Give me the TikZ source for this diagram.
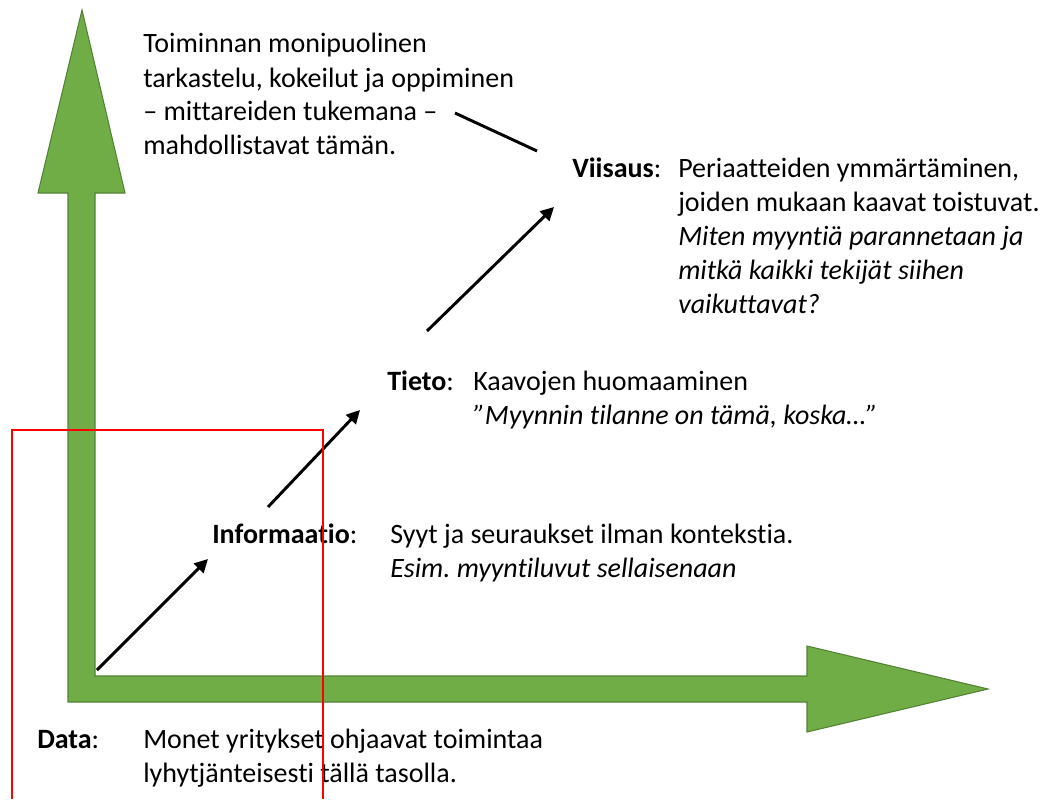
\documentclass[tikz,border=0pt]{standalone}
\usepackage{fontspec}
\setmainfont[Ligatures=NoCommon]{Carlito}
\usetikzlibrary{arrows.meta}
\definecolor{axisgreen}{HTML}{70AD47}
\definecolor{axisedge}{HTML}{548235}
\newcommand{\textlines}[1]{\begin{tabular}[t]{@{}l@{}}#1\end{tabular}}
\begin{document}
\begin{tikzpicture}[x=0.75pt,y=-0.75pt]

\tikzstyle{levelstyle} = [anchor=base west,inner sep=0,font={\fontsize{21}{25.5}\selectfont}]
\tikzstyle{textstyle} = [anchor=base west,inner sep=0,font={\fontsize{21}{25.5}\selectfont}]
\tikzstyle{black_arrow_edge} = [-{Triangle[length=10pt,width=10pt]}, draw=black, line width=2.2pt]
\tikzstyle{black_line_edge} = [draw=black, line width=2.2pt]

\useasboundingbox (0,0) rectangle (1048,799);

% axes
\fill [axisgreen, draw=axisedge, line width=0.8pt]
  (82,10) -- (125,193) -- (95,193) -- (95,676) -- (807,676) -- (807,646)
  -- (988,689) -- (807,732) -- (807,702) -- (68,702) -- (68,193) -- (38,193) -- cycle;

\node [textstyle] (note) at (143,53) {\textlines{Toiminnan monipuolinen\\tarkastelu, kokeilut ja oppiminen\\– mittareiden tukemana –\\mahdollistavat tämän.}};

\node [levelstyle] (viisaus) at (572,177) {\textbf{Viisaus}:};
\node [textstyle] (viisaustxt) at (678,177) {\textlines{Periaatteiden ymmärtäminen,\\joiden mukaan kaavat toistuvat.\\\textit{Miten myyntiä parannetaan ja}\\\textit{mitkä kaikki tekijät siihen}\\\textit{vaikuttavat?}}};

\node [levelstyle] (tieto) at (387,390) {\textbf{Tieto}:};
\node [textstyle] (tietotxt) at (473,390) {\textlines{Kaavojen huomaaminen\\\textit{”Myynnin tilanne on tämä, koska…”}}};

\node [levelstyle] (info) at (212,543) {\textbf{Informaatio}:};
\node [textstyle] (infotxt) at (390,543) {\textlines{Syyt ja seuraukset ilman kontekstia.\\\textit{Esim.\ myyntiluvut sellaisenaan}}};

\node [levelstyle] (data) at (37,748) {\textbf{Data}:};
\node [textstyle] (datatxt) at (143,748) {\textlines{Monet yritykset ohjaavat toimintaa\\lyhytjänteisesti tällä tasolla.}};

\coordinate (c1) at (97,670);
\coordinate (c2) at (208,559);
\coordinate (c3) at (268,507);
\coordinate (c4) at (360,410);
\coordinate (c5) at (427,331);
\coordinate (c6) at (554,207);
\coordinate (c7) at (455,113);
\coordinate (c8) at (537,151);
\draw [black_arrow_edge] (c1) -- (c2);
\draw [black_arrow_edge] (c3) -- (c4);
\draw [black_arrow_edge] (c5) -- (c6);
\draw [black_line_edge] (c7) -- (c8);

% frame
\draw [red, line width=1.5pt] (12,799) -- (12,430) -- (323,430) -- (323,799);
\end{tikzpicture}
\end{document}
